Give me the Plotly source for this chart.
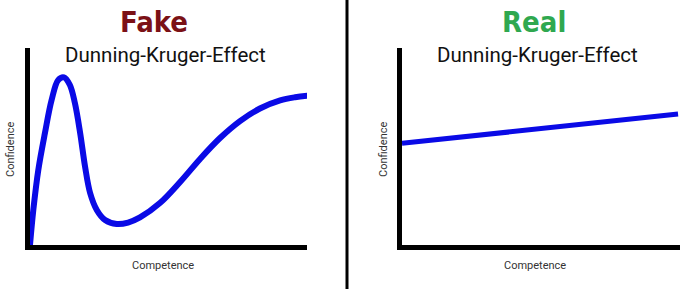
import plotly.graph_objects as go

W, H = 700, 289

# Fake Dunning-Kruger curve (competence 0-100, confidence 0-100)
fake_competence = [0, 1.2, 3.0, 5.4, 7.8, 10.2, 12.3, 14.4, 16.2, 18.1, 19.9, 21.7,
                   24.1, 27.1, 31.3, 35.4, 39.7, 46.9, 54.2, 61.4, 68.6, 75.8, 83.0,
                   90.3, 95.7, 100.5]
fake_confidence = [0, 17.8, 38.1, 56.9, 73.6, 83.8, 85.1, 81.2, 72.1, 56.9, 39.6, 26.4,
                   17.8, 12.7, 10.7, 11.4, 14.0, 21.3, 32.0, 43.7, 54.3, 62.9, 69.3,
                   73.4, 75.0, 75.8]

# Real Dunning-Kruger line
real_competence = [0, 99.3]
real_confidence = [51.6, 66.5]

titles_top = ["Fake", "Real"]
title_colors = ["#7b1116", "#2fa84f"]
subtitle = "Dunning-Kruger-Effect"
x_label = "Competence"
y_label = "Confidence"


def px(x):
    return x / W


def py(y):
    return 1 - y / H


fig = go.Figure()
fig.add_trace(go.Scatter(x=fake_competence, y=fake_confidence, mode="lines",
                         line=dict(color="#0a0ae6", width=6, shape="spline", smoothing=1.0),
                         xaxis="x", yaxis="y", cliponaxis=False, showlegend=False,
                         hoverinfo="skip"))
fig.add_trace(go.Scatter(x=real_competence, y=real_confidence, mode="lines",
                         line=dict(color="#0a0ae6", width=5),
                         xaxis="x2", yaxis="y2", cliponaxis=False, showlegend=False,
                         hoverinfo="skip"))

ax_common = dict(range=[0, 100], showgrid=False, zeroline=False, showticklabels=False,
                 ticks="", showline=True, linecolor="black", linewidth=5, fixedrange=True)

ybot, ytop = py(245), py(48)
fig.update_layout(
    width=W, height=H,
    margin=dict(l=0, r=0, t=0, b=0),
    paper_bgcolor="white", plot_bgcolor="white",
    xaxis=dict(domain=[px(30), px(307)], anchor="y", **ax_common),
    yaxis=dict(domain=[ybot, ytop], anchor="x", **ax_common),
    xaxis2=dict(domain=[px(402), px(680)], anchor="y2", **ax_common),
    yaxis2=dict(domain=[ybot, ytop], anchor="x2", **ax_common),
)

# separator line
fig.add_shape(type="line", xref="paper", yref="paper", x0=px(347), x1=px(347),
              y0=0, y1=1, line=dict(color="black", width=3))

title_font = "DejaVu Sans Condensed, DejaVu Sans, sans-serif"
annos = []
for cx_title, cx_sub, cx_lab, cx_ylab, t, c in [
        (153.5, 165, 163, 10, titles_top[0], title_colors[0]),
        (533.5, 537.5, 535, 383, titles_top[1], title_colors[1])]:
    annos.append(dict(x=px(cx_title), y=py(22), text=t, showarrow=False,
                      xanchor="center", yanchor="middle",
                      font=dict(family=title_font, size=29, color=c, weight="bold")))
    annos.append(dict(x=px(cx_sub), y=py(55), text=subtitle, showarrow=False,
                      xanchor="center", yanchor="middle",
                      font=dict(family="Roboto", size=20.5, color="#111111")))
    annos.append(dict(x=px(cx_lab), y=py(265), text=x_label, showarrow=False,
                      xanchor="center", yanchor="middle",
                      font=dict(family="Roboto", size=11, color="#333333")))
    annos.append(dict(x=px(cx_ylab), y=py(150), text=y_label, showarrow=False, textangle=-90,
                      xanchor="center", yanchor="middle",
                      font=dict(family="Roboto", size=11, color="#333333")))
for a in annos:
    a.update(xref="paper", yref="paper")
fig.update_layout(annotations=annos)

fig.write_html("out.html", config={"displayModeBar": False})
